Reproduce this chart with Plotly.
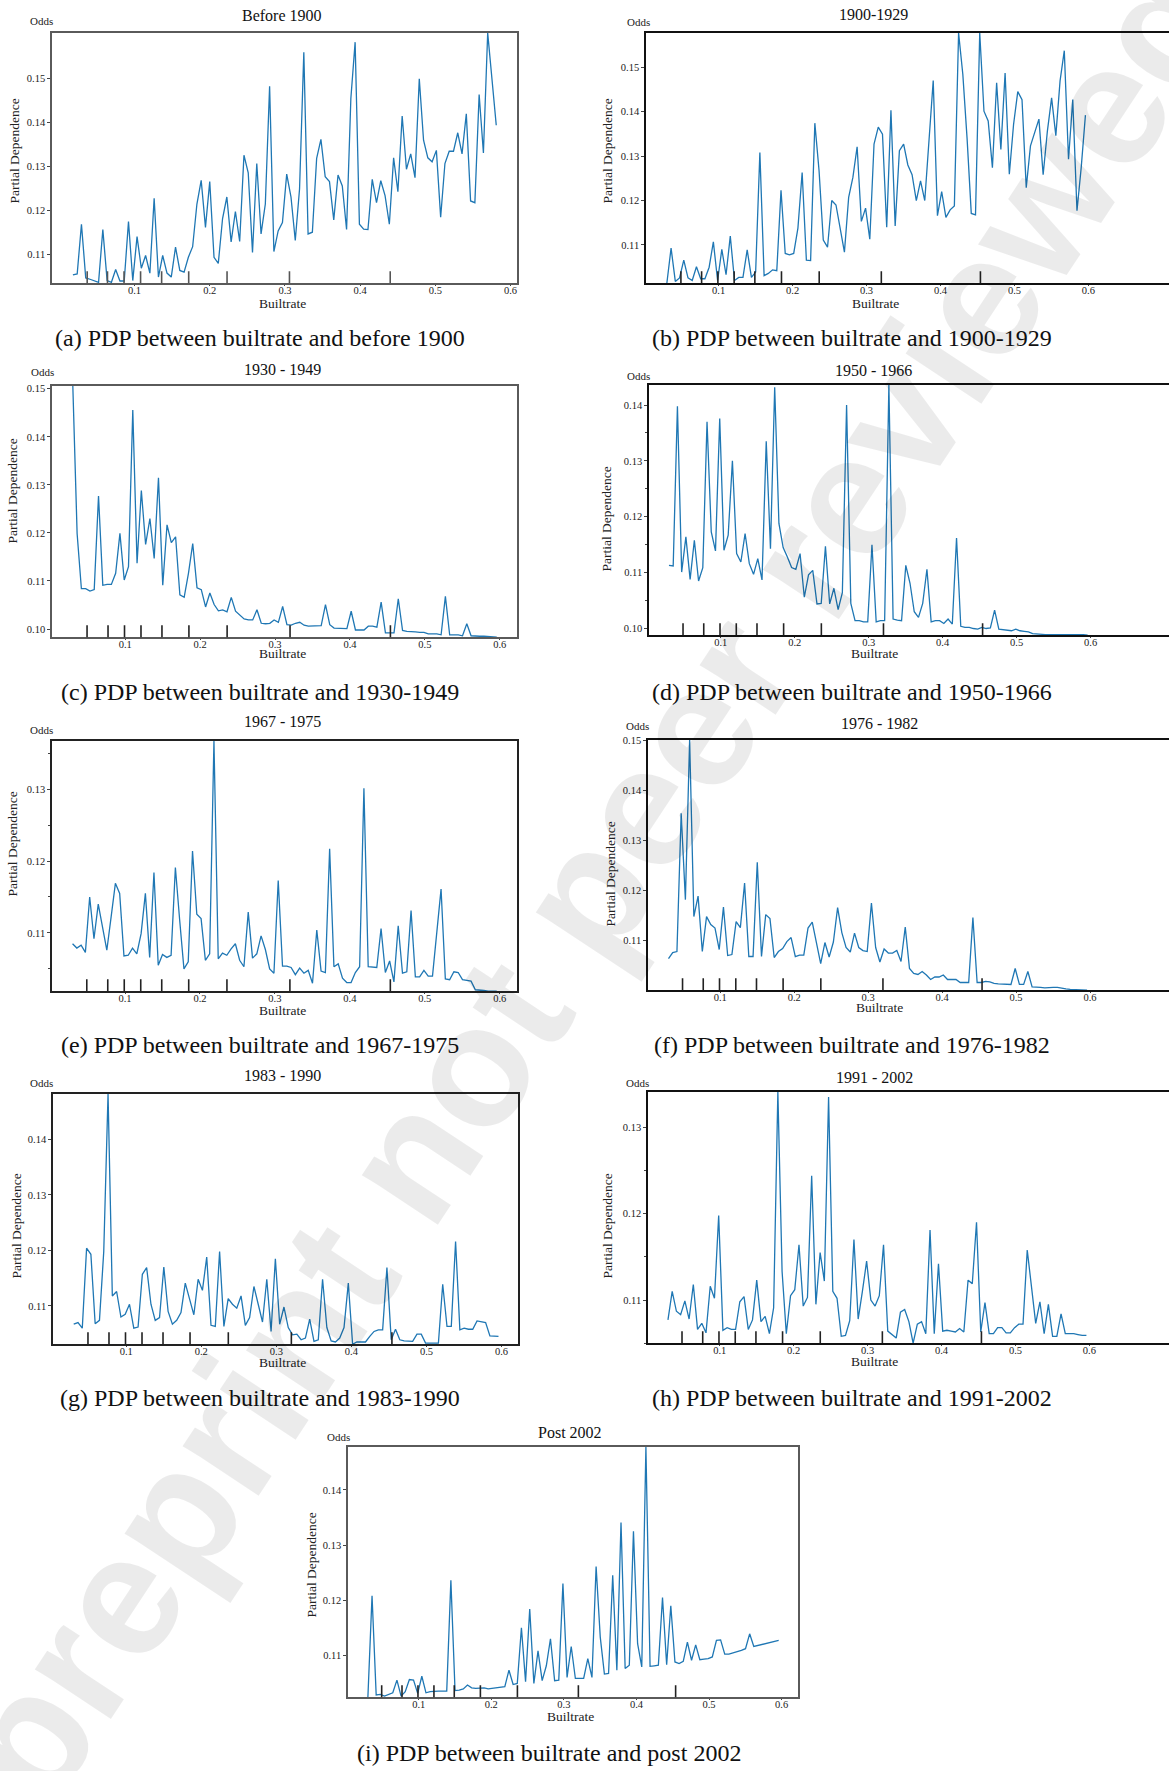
import numpy as np
import plotly.graph_objects as go

W, H = 1169, 1771

# ---------------- data ----------------
# PDP evaluation grids (100 points, uniform grid as produced by the PDP tool)
GRID_A = np.linspace(0.018, 0.581, 100)
GRID = np.linspace(0.030, 0.596, 100)

DECILES_A = [0.037, 0.064, 0.086, 0.108, 0.136, 0.172, 0.223, 0.306, 0.440]
DECILES = [0.049, 0.077, 0.099, 0.121, 0.149, 0.185, 0.236, 0.320, 0.454]

X_TICKS = [0.1, 0.2, 0.3, 0.4, 0.5, 0.6]
X_TICK_TEXT = ["0.1", "0.2", "0.3", "0.4", "0.5", "0.6"]

PD_BEFORE_1900 = [
    0.1054, 0.1056, 0.1169, 0.1047, 0.1044, 0.1041, 0.1037, 0.1157, 0.1041, 0.1037,
    0.1066, 0.1040, 0.1040, 0.1175, 0.1041, 0.1141, 0.1069, 0.1098, 0.1058, 0.1228,
    0.1049, 0.1098, 0.1058, 0.1049, 0.1117, 0.1064, 0.1060, 0.1094, 0.1118, 0.1215,
    0.1269, 0.1162, 0.1266, 0.1094, 0.1080, 0.1182, 0.1231, 0.1129, 0.1198, 0.1130,
    0.1326, 0.1286, 0.1105, 0.1307, 0.1147, 0.1215, 0.1483, 0.1107, 0.1154, 0.1173,
    0.1283, 0.1231, 0.1132, 0.1249, 0.1560, 0.1147, 0.1151, 0.1319, 0.1362, 0.1277,
    0.1266, 0.1179, 0.1281, 0.1256, 0.1157, 0.1455, 0.1583, 0.1169, 0.1158, 0.1157,
    0.1271, 0.1218, 0.1268, 0.1234, 0.1169, 0.1320, 0.1243, 0.1415, 0.1294, 0.1329,
    0.1275, 0.1500, 0.1360, 0.1320, 0.1311, 0.1337, 0.1185, 0.1307, 0.1335, 0.1335,
    0.1377, 0.1329, 0.1420, 0.1222, 0.1218, 0.1464, 0.1331, 0.1604, 0.1502, 0.1394,
]
PD_1900_1929 = [
    0.1014, 0.1093, 0.1018, 0.1026, 0.1066, 0.1026, 0.1020, 0.1051, 0.1024, 0.1024,
    0.1050, 0.1107, 0.1020, 0.1090, 0.1033, 0.1120, 0.1020, 0.1027, 0.1027, 0.1089,
    0.1027, 0.1039, 0.1308, 0.1031, 0.1036, 0.1044, 0.1042, 0.1223, 0.1081, 0.1078,
    0.1081, 0.1138, 0.1263, 0.1066, 0.1065, 0.1374, 0.1267, 0.1111, 0.1095, 0.1200,
    0.1190, 0.1141, 0.1084, 0.1207, 0.1252, 0.1321, 0.1153, 0.1183, 0.1113, 0.1327,
    0.1365, 0.1349, 0.1140, 0.1403, 0.1143, 0.1312, 0.1327, 0.1280, 0.1258, 0.1200,
    0.1244, 0.1200, 0.1334, 0.1470, 0.1166, 0.1220, 0.1162, 0.1179, 0.1188, 0.1577,
    0.1484, 0.1341, 0.1171, 0.1168, 0.1577, 0.1401, 0.1379, 0.1274, 0.1465, 0.1315,
    0.1487, 0.1259, 0.1371, 0.1445, 0.1427, 0.1229, 0.1323, 0.1356, 0.1383, 0.1258,
    0.1356, 0.1431, 0.1346, 0.1469, 0.1537, 0.1293, 0.1427, 0.1177, 0.1274, 0.1392,
]
PD_1930_1949 = [
    0.1506, 0.1199, 0.1084, 0.1084, 0.1079, 0.1082, 0.1277, 0.1091, 0.1093, 0.1093,
    0.1116, 0.1199, 0.1102, 0.1130, 0.1456, 0.1137, 0.1288, 0.1176, 0.1230, 0.1147,
    0.1315, 0.1091, 0.1217, 0.1180, 0.1192, 0.1071, 0.1066, 0.1116, 0.1178, 0.1086,
    0.1082, 0.1046, 0.1075, 0.1051, 0.1038, 0.1040, 0.1036, 0.1066, 0.1037, 0.1028,
    0.1021, 0.1019, 0.1019, 0.1040, 0.1012, 0.1011, 0.1012, 0.1019, 0.1014, 0.1047,
    0.1009, 0.1008, 0.1012, 0.1014, 0.1008, 0.1006, 0.1006, 0.1006, 0.1007, 0.1051,
    0.1009, 0.1002, 0.1002, 0.1001, 0.1001, 0.1037, 0.0998, 0.0998, 0.0998, 0.1006,
    0.1006, 0.1004, 0.1056, 0.0992, 0.0992, 0.0992, 0.1063, 0.0997, 0.0995, 0.0995,
    0.0994, 0.0993, 0.0993, 0.0990, 0.0990, 0.0990, 0.0988, 0.1068, 0.0988, 0.0988,
    0.0988, 0.0986, 0.1011, 0.0986, 0.0985, 0.0985, 0.0985, 0.0984, 0.0983, 0.0983,
]
PD_1950_1966 = [
    0.1113, 0.1112, 0.1398, 0.1101, 0.1164, 0.1088, 0.1158, 0.1085, 0.1109, 0.1370,
    0.1173, 0.1139, 0.1376, 0.1140, 0.1167, 0.1300, 0.1134, 0.1119, 0.1170, 0.1116,
    0.1097, 0.1125, 0.1087, 0.1335, 0.1143, 0.1432, 0.1188, 0.1145, 0.1128, 0.1109,
    0.1106, 0.1134, 0.1056, 0.1096, 0.1104, 0.1044, 0.1045, 0.1147, 0.1044, 0.1072,
    0.1034, 0.1064, 0.1400, 0.1045, 0.1014, 0.1014, 0.1012, 0.1012, 0.1150, 0.1012,
    0.1014, 0.1014, 0.1436, 0.1017, 0.1015, 0.1014, 0.1113, 0.1081, 0.1030, 0.1020,
    0.1045, 0.1106, 0.1012, 0.1014, 0.1014, 0.1009, 0.1017, 0.1008, 0.1162, 0.1004,
    0.1002, 0.1002, 0.1000, 0.0999, 0.1002, 0.1000, 0.1001, 0.1033, 0.0999, 0.0998,
    0.0996, 0.0996, 0.0999, 0.0996, 0.0995, 0.0994, 0.0991, 0.0990, 0.0990, 0.0989,
    0.0989, 0.0989, 0.0989, 0.0989, 0.0989, 0.0989, 0.0989, 0.0990, 0.0989, 0.0988,
]
PD_1967_1975 = [
    0.1085, 0.1079, 0.1083, 0.1073, 0.1150, 0.1092, 0.1140, 0.1108, 0.1076, 0.1122,
    0.1169, 0.1155, 0.1068, 0.1069, 0.1079, 0.1071, 0.1099, 0.1155, 0.1066, 0.1184,
    0.1055, 0.1070, 0.1066, 0.1069, 0.1191, 0.1118, 0.1050, 0.1060, 0.1214, 0.1126,
    0.1120, 0.1062, 0.1071, 0.1367, 0.1064, 0.1072, 0.1069, 0.1078, 0.1085, 0.1062,
    0.1053, 0.1129, 0.1065, 0.1071, 0.1096, 0.1077, 0.1050, 0.1044, 0.1173, 0.1054,
    0.1054, 0.1052, 0.1042, 0.1051, 0.1044, 0.1048, 0.1030, 0.1104, 0.1047, 0.1045,
    0.1217, 0.1053, 0.1057, 0.1037, 0.1031, 0.1031, 0.1045, 0.1053, 0.1301, 0.1053,
    0.1052, 0.1052, 0.1106, 0.1045, 0.1061, 0.1032, 0.1110, 0.1044, 0.1046, 0.1131,
    0.1039, 0.1039, 0.1048, 0.1040, 0.1040, 0.1099, 0.1161, 0.1036, 0.1035, 0.1046,
    0.1045, 0.1035, 0.1034, 0.1033, 0.1021, 0.1021, 0.1020, 0.1019, 0.1019, 0.1019,
]
PD_1976_1982 = [
    0.1063, 0.1075, 0.1077, 0.1354, 0.1181, 0.1501, 0.1147, 0.1188, 0.1077, 0.1147,
    0.1131, 0.1124, 0.1081, 0.1166, 0.1069, 0.1071, 0.1137, 0.1125, 0.1214, 0.1067,
    0.1067, 0.1256, 0.1067, 0.1151, 0.1143, 0.1065, 0.1077, 0.1083, 0.1097, 0.1105,
    0.1067, 0.1070, 0.1070, 0.1124, 0.1136, 0.1093, 0.1053, 0.1095, 0.1066, 0.1096,
    0.1165, 0.1115, 0.1085, 0.1076, 0.1114, 0.1085, 0.1079, 0.1077, 0.1174, 0.1085,
    0.1056, 0.1082, 0.1074, 0.1074, 0.1079, 0.1057, 0.1126, 0.1043, 0.1033, 0.1031,
    0.1037, 0.1030, 0.1021, 0.1026, 0.1026, 0.1030, 0.1021, 0.1021, 0.1021, 0.1015,
    0.1015, 0.1015, 0.1145, 0.1015, 0.1015, 0.1017, 0.1016, 0.1013, 0.1012, 0.1012,
    0.1011, 0.1011, 0.1043, 0.1011, 0.1011, 0.1037, 0.1006, 0.1006, 0.1005, 0.1004,
    0.1005, 0.1005, 0.1005, 0.1003, 0.1002, 0.1001, 0.1001, 0.1000, 0.1000, 0.09995,
]
PD_1983_1990 = [
    0.1067, 0.1070, 0.1060, 0.1204, 0.1193, 0.1068, 0.1074, 0.1198, 0.1482, 0.1118,
    0.1126, 0.1080, 0.1085, 0.1103, 0.1060, 0.1062, 0.1157, 0.1169, 0.1103, 0.1074,
    0.1079, 0.1170, 0.1090, 0.1067, 0.1074, 0.1088, 0.1141, 0.1114, 0.1084, 0.1148,
    0.1128, 0.1188, 0.1065, 0.1063, 0.1198, 0.1063, 0.1113, 0.1103, 0.1096, 0.1118,
    0.1065, 0.1079, 0.1135, 0.1103, 0.1071, 0.1148, 0.1054, 0.1185, 0.1067, 0.1098,
    0.1061, 0.1048, 0.1049, 0.1039, 0.1042, 0.1076, 0.1036, 0.1039, 0.1148, 0.1061,
    0.1037, 0.1035, 0.1042, 0.1061, 0.1141, 0.1031, 0.1035, 0.1035, 0.1035, 0.1045,
    0.1054, 0.1057, 0.1057, 0.1169, 0.1039, 0.1058, 0.1039, 0.1037, 0.1037, 0.1036,
    0.1049, 0.1049, 0.1033, 0.1033, 0.1033, 0.1033, 0.1139, 0.1063, 0.1063, 0.1216,
    0.1057, 0.1060, 0.1058, 0.1058, 0.1073, 0.1072, 0.1070, 0.1046, 0.1046, 0.1045,
]
PD_1991_2002 = [
    0.1077, 0.1110, 0.1087, 0.1083, 0.1099, 0.1078, 0.1118, 0.1066, 0.1073, 0.1062,
    0.1116, 0.1102, 0.1198, 0.1065, 0.1068, 0.1066, 0.1066, 0.1098, 0.1104, 0.1066,
    0.1077, 0.1123, 0.1075, 0.1081, 0.1061, 0.1091, 0.1341, 0.1133, 0.1061, 0.1105,
    0.1112, 0.1164, 0.1093, 0.1103, 0.1244, 0.1095, 0.1155, 0.1122, 0.1335, 0.1110,
    0.1102, 0.1058, 0.1059, 0.1076, 0.1170, 0.1078, 0.1110, 0.1145, 0.1100, 0.1093,
    0.1105, 0.1164, 0.1064, 0.1060, 0.1056, 0.1086, 0.1089, 0.1075, 0.1050, 0.1072,
    0.1075, 0.1061, 0.1181, 0.1061, 0.1142, 0.1064, 0.1065, 0.1064, 0.1063, 0.1067,
    0.1063, 0.1123, 0.1119, 0.1190, 0.1063, 0.1097, 0.1061, 0.1061, 0.1068, 0.1068,
    0.1062, 0.1062, 0.1068, 0.1072, 0.1072, 0.1158, 0.1118, 0.1073, 0.1098, 0.1061,
    0.1095, 0.1058, 0.1058, 0.1084, 0.1061, 0.1061, 0.1061, 0.1060, 0.1059, 0.1059,
]
PD_POST_2002 = [
    0.1024, 0.1208, 0.1028, 0.1029, 0.1026, 0.1029, 0.1032, 0.1055, 0.1026, 0.1034,
    0.1056, 0.1055, 0.1031, 0.1062, 0.1032, 0.1034, 0.1035, 0.1035, 0.1035, 0.1035,
    0.1236, 0.1036, 0.1037, 0.1039, 0.1046, 0.1041, 0.1040, 0.1041, 0.1041, 0.1039,
    0.1040, 0.1042, 0.1042, 0.1043, 0.1073, 0.1047, 0.1049, 0.1150, 0.1052, 0.1184,
    0.1049, 0.1108, 0.1054, 0.1081, 0.1130, 0.1054, 0.1055, 0.1230, 0.1060, 0.1116,
    0.1058, 0.1058, 0.1058, 0.1094, 0.1060, 0.1261, 0.1133, 0.1066, 0.1067, 0.1245,
    0.1073, 0.1341, 0.1076, 0.1082, 0.1325, 0.1121, 0.1079, 0.1478, 0.1080, 0.1081,
    0.1082, 0.1205, 0.1083, 0.1190, 0.1088, 0.1085, 0.1089, 0.1124, 0.1091, 0.1119,
    0.1092, 0.1093, 0.1094, 0.1097, 0.1127, 0.1128, 0.1102, 0.1102, 0.1104, 0.1106,
    0.1109, 0.1112, 0.1139, 0.1116, 0.1118, 0.1120, 0.1121, 0.1123, 0.1125, 0.1127,
]

TITLES = ["Before 1900", "1900-1929", "1930 - 1949", "1950 - 1966", "1967 - 1975",
          "1976 - 1982", "1983 - 1990", "1991 - 2002", "Post 2002"]
CAPTIONS = [
    "(a) PDP between builtrate and before 1900",
    "(b) PDP between builtrate and 1900-1929",
    "(c) PDP between builtrate and 1930-1949",
    "(d) PDP between builtrate and 1950-1966",
    "(e) PDP between builtrate and 1967-1975",
    "(f) PDP between builtrate and 1976-1982",
    "(g) PDP between builtrate and 1983-1990",
    "(h) PDP between builtrate and 1991-2002",
    "(i) PDP between builtrate and post 2002",
]
SERIES = [PD_BEFORE_1900, PD_1900_1929, PD_1930_1949, PD_1950_1966, PD_1967_1975,
          PD_1976_1982, PD_1983_1990, PD_1991_2002, PD_POST_2002]
Y_TICKS = [
    [0.11, 0.12, 0.13, 0.14, 0.15],
    [0.11, 0.12, 0.13, 0.14, 0.15],
    [0.10, 0.11, 0.12, 0.13, 0.14, 0.15],
    [0.10, 0.11, 0.12, 0.13, 0.14],
    [0.11, 0.12, 0.13],
    [0.11, 0.12, 0.13, 0.14, 0.15],
    [0.11, 0.12, 0.13, 0.14],
    [0.11, 0.12, 0.13],
    [0.11, 0.12, 0.13, 0.14],
]
WATERMARK = "preprint not peer reviewed"

# ---------------- layout geometry (pixels) ----------------
BOXES = [
    (52, 517, 28, 279), (646, 1169, 28, 279),
    (52, 517, 382, 634), (649, 1169, 381, 632),
    (52, 517, 738, 989), (648, 1169, 737, 988),
    (53, 518, 1092, 1343), (648, 1169, 1090, 1342),
    (348, 798, 1446, 1697),
]
X_RANGES = [(-0.0098, 0.6086), (0.0018, 0.709), (0.0022, 0.623), (0.003, 0.706),
            (0.0026, 0.623), (0.0023, 0.7068), (0.0024, 0.622), (0.003, 0.7077),
            (0.0026, 0.6226)]
Y_RANGES = [(0.1035, 0.1604), (0.1014, 0.1577), (0.0983, 0.1506), (0.0988, 0.1436),
            (0.1019, 0.1367), (0.09995, 0.1501), (0.1031, 0.1482), (0.1050, 0.1341),
            (0.1024, 0.1478)]
MINOR = [False, False, False, True, True, False, False, True, False]
RIGHT_COL = [False, True, False, True, False, True, False, True, False]
BORDER = ["#5a5a5a", "#111111", "#5a5a5a", "#111111", "#222222", "#111111",
          "#222222", "#111111", "#5a5a5a"]
RUG = ["#555555", "#222222", "#222222", "#222222", "#222222", "#222222",
       "#222222", "#222222", "#222222"]

TEXT_DY = -4  # small upward correction for annotation text boxes
TITLE_POS = [(282, 15), (873, 14), (282, 370), (873, 371), (282, 723), (879, 725),
             (282, 1078), (874, 1080), (570, 1436)]
ODDS_POS = [(41, 20), (638, 21), (42, 372), (638, 376), (41, 731), (637, 727),
            (41, 1085), (637, 1085), (338, 1440)]
YLAB_POS = [(15, 147), (608, 147), (13, 488), (607, 516), (13, 842), (611, 871),
            (17, 1225), (608, 1225), (312, 1565)]
XLAB_POS = [(282, 303), (875, 303), (282, 654), (874, 654), (282, 1012), (879, 1009),
            (282, 1365), (874, 1364), (570, 1720)]
CAP_POS = [(260, 338), (852, 338), (260, 693), (852, 693), (260, 1047), (852, 1047),
           (260, 1401), (852, 1401), (549, 1757)]

SERIF = "Liberation Serif"
BLUE = "#1f77b4"

fig = go.Figure()
layout = dict(
    width=W, height=H, margin=dict(l=0, r=0, t=0, b=0),
    paper_bgcolor="white", plot_bgcolor="white", showlegend=False,
)
annotations = []
shapes = []


def px(xp):
    return xp / W


def py(yp):
    return 1 - (yp + TEXT_DY) / H


def pyd(yp):
    return 1 - yp / H


for k in range(9):
    n = k + 1
    sfx = "" if n == 1 else str(n)
    xa, ya = "x" + sfx, "y" + sfx
    l, r, t, b = BOXES[k]
    grid = GRID_A if k == 0 else GRID
    fig.add_trace(go.Scatter(
        x=grid, y=SERIES[k], mode="lines", line=dict(color=BLUE, width=1.3),
        xaxis=xa, yaxis=ya, hoverinfo="skip", showlegend=False))

    layout["xaxis" + sfx] = dict(
        domain=[px(l), px(r)], range=list(X_RANGES[k]), anchor=ya,
        tickvals=X_TICKS, ticktext=X_TICK_TEXT, ticks="outside", ticklen=1,
        ticklabelstandoff=-5,
        tickcolor="#444", tickfont=dict(family=SERIF, size=10.5, color="#222"),
        showline=True, linecolor=BORDER[k], linewidth=1.5, mirror=True,
        showgrid=False, zeroline=False, fixedrange=True)
    ydict = dict(
        domain=[pyd(b), pyd(t)], range=list(Y_RANGES[k]), anchor=xa,
        tickvals=Y_TICKS[k], ticktext=["%.2f" % v for v in Y_TICKS[k]],
        ticks="outside", ticklen=3, tickcolor="#444",
        tickfont=dict(family=SERIF, size=10.5, color="#222"),
        showline=True, linecolor=BORDER[k], linewidth=1.5,
        mirror=(not RIGHT_COL[k]), showgrid=False, zeroline=False, fixedrange=True)
    if MINOR[k]:
        ydict["minor"] = dict(tick0=0.005, dtick=0.01, ticks="outside", ticklen=2,
                              tickcolor="#444")
    layout["yaxis" + sfx] = ydict

    deciles = DECILES_A if k == 0 else DECILES
    for d in deciles:
        shapes.append(dict(type="line", xref=xa, yref=ya + " domain", x0=d, x1=d,
                           y0=0, y1=12.0 / (b - t),
                           line=dict(color=RUG[k], width=1.6)))

    tx, ty = TITLE_POS[k]
    annotations.append(dict(text=TITLES[k], x=px(tx), y=py(ty), xref="paper", yref="paper",
                            showarrow=False, xanchor="center", yanchor="middle",
                            font=dict(family=SERIF, size=16, color="#111")))
    ox, oy = ODDS_POS[k]
    annotations.append(dict(text="Odds", x=px(ox), y=py(oy), xref="paper", yref="paper",
                            showarrow=False, xanchor="center", yanchor="middle",
                            font=dict(family=SERIF, size=11, color="#222")))
    lx, ly = YLAB_POS[k]
    annotations.append(dict(text="Partial Dependence", x=px(lx), y=pyd(ly), xref="paper",
                            yref="paper", showarrow=False, textangle=-90,
                            xanchor="center", yanchor="middle",
                            font=dict(family=SERIF, size=13.5, color="#222")))
    bx, by = XLAB_POS[k]
    annotations.append(dict(text="Builtrate", x=px(bx), y=py(by), xref="paper", yref="paper",
                            showarrow=False, xanchor="center", yanchor="middle",
                            font=dict(family=SERIF, size=13.5, color="#222")))
    cx, cy = CAP_POS[k]
    annotations.append(dict(text=CAPTIONS[k], x=px(cx), y=py(cy), xref="paper", yref="paper",
                            showarrow=False, xanchor="center", yanchor="middle",
                            font=dict(family=SERIF, size=24, color="#111")))

# diagonal watermark
annotations.append(dict(text=WATERMARK, x=px(592), y=pyd(880),
                        xref="paper", yref="paper", showarrow=False, textangle=-56.5,
                        xanchor="center", yanchor="middle",
                        font=dict(family="Liberation Sans", size=172, weight="bold",
                                  color="rgba(0,0,0,0.08)")))

layout["annotations"] = annotations
layout["shapes"] = shapes
fig.update_layout(**layout)
fig.write_html("out.html", config={"displayModeBar": False},
               post_script="document.body.style.margin='0px';")
